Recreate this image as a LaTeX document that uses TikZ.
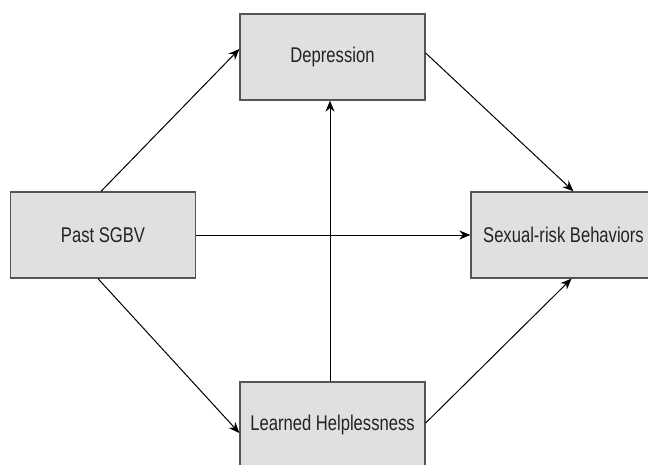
\documentclass[tikz,border=0pt]{standalone}
\usepackage{fontspec}
\setmainfont{Liberation Sans}[FakeStretch=0.78]
\usetikzlibrary{arrows.meta}
\definecolor{boxfill}{HTML}{E0E0E0}
\definecolor{boxline}{HTML}{555555}
\definecolor{txt}{HTML}{222222}
\begin{document}
\begin{tikzpicture}[x=1pt,y=-1pt,
  box/.style={draw=boxline,line width=1.3pt,fill=boxfill,minimum width=185pt,minimum height=86pt,inner sep=0pt,text=txt,font=\fontsize{21.3}{25}\selectfont},
  arr/.style={-{Stealth[length=11pt,width=9pt]},line width=1pt,black}]
\useasboundingbox (0,0) rectangle (648,464);
\node[box] (dep) at (332.5,57) {Depression};
\node[box] (past) at (103,235) {Past SGBV};
\node[box] (sex) at (563.5,235) {Sexual-risk Behaviors};
\node[box] (lh) at (332.5,425) {Learned Helplessness};
\draw[arr] ([xshift=-2pt]past.north) -- ([yshift=8pt]dep.west);
\draw[arr] ([xshift=-5pt]past.south) -- ([yshift=-8pt]lh.west);
\draw[arr] (past.east) -- (sex.west);
\draw[arr] ([yshift=4pt]dep.east) -- ([xshift=10pt]sex.north);
\draw[arr] ([yshift=2pt]lh.east) -- ([xshift=8pt]sex.south);
\draw[arr] ([xshift=-2.5pt]lh.north) -- ([xshift=-2.5pt]dep.south);
\end{tikzpicture}
\end{document}
